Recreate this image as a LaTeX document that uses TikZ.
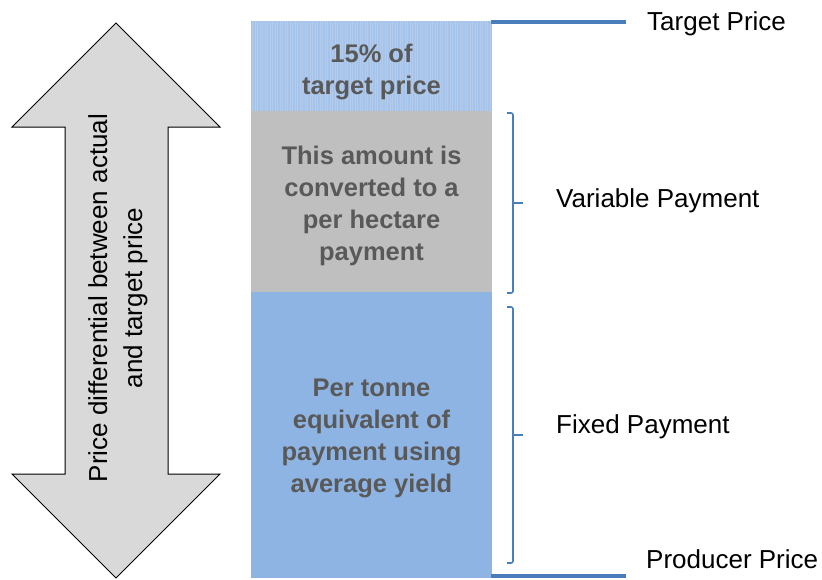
\documentclass[tikz,border=0pt]{standalone}
\usepackage{fontspec}
\setmainfont{Liberation Sans}
\begin{document}
\begin{tikzpicture}[x=1pt,y=-1pt,
  boxtext/.style={font=\fontsize{25.5}{32}\selectfont\bfseries, text=txtgray, align=center, inner sep=0pt},
  lbl/.style={font=\fontsize{26}{30}\selectfont, text=black, anchor=base west, inner sep=0pt},
  priceline/.style={draw=lineblue, line width=3.2pt},
  bracket/.style={draw=lineblue, line width=1.6pt, rounded corners=2pt}]
\definecolor{txtgray}{HTML}{595959}
\definecolor{lineblue}{HTML}{4A7EBB}
\definecolor{topblue}{HTML}{A6C3E9}
\definecolor{midgray}{HTML}{BFBFBF}
\definecolor{botblue}{HTML}{8EB4E3}
\definecolor{arrowgray}{HTML}{D9D9D9}
\useasboundingbox (0,0) rectangle (822,579);
% boxes
\fill[topblue] (251,21) rectangle (492,111);
\begin{scope}
\clip (251,21) rectangle (492,111);
\draw[white, opacity=0.15, line width=0.3pt, step=2.5] (250,20) grid (493,112);
\end{scope}
\fill[midgray] (251,111) rectangle (492,292);
\fill[botblue] (251,292) rectangle (492,578);
\node[boxtext] (t1) at (371.5,72) {15\% of\\target price};
\node[boxtext] (t2) at (371.5,206) {This amount is\\converted to a\\per hectare\\payment};
\node[boxtext] (t3) at (371.5,438) {Per tonne\\equivalent of\\payment using\\average yield};
% price lines
\coordinate (tpL) at (491,22);
\coordinate (tpR) at (626,22);
\coordinate (ppL) at (491,576);
\coordinate (ppR) at (626,576);
\draw[priceline] (tpL) -- (tpR);
\draw[priceline] (ppL) -- (ppR);
% brackets
\draw[bracket] (507,113) -- (513,113) -- (513,203) -- (513,293) -- (507,293);
\draw[draw=lineblue, line width=1.6pt] (513,203) -- (523,203);
\draw[bracket] (507,307) -- (513,307) -- (513,435) -- (513,563) -- (507,563);
\draw[draw=lineblue, line width=1.6pt] (513,435) -- (523,435);
% labels
\node[lbl] (ltp) at (647,30) {Target Price};
\node[lbl] (lvp) at (556,207) {Variable Payment};
\node[lbl] (lfp) at (556,433) {Fixed Payment};
\node[lbl] (lpp) at (646,568) {Producer Price};
% double arrow
\draw[fill=arrowgray, draw=black, line width=1pt, line join=miter]
  (116,23) -- (220,127) -- (168,127) -- (168,474) -- (220,474) -- (116,578)
  -- (12,474) -- (65,474) -- (65,127) -- (12,127) -- cycle;
\node[font=\fontsize{26}{35}\selectfont, align=center, rotate=90, inner sep=0pt] (arrtxt) at (118,298)
  {Price differential between actual\\and target price};
\end{tikzpicture}
\end{document}
